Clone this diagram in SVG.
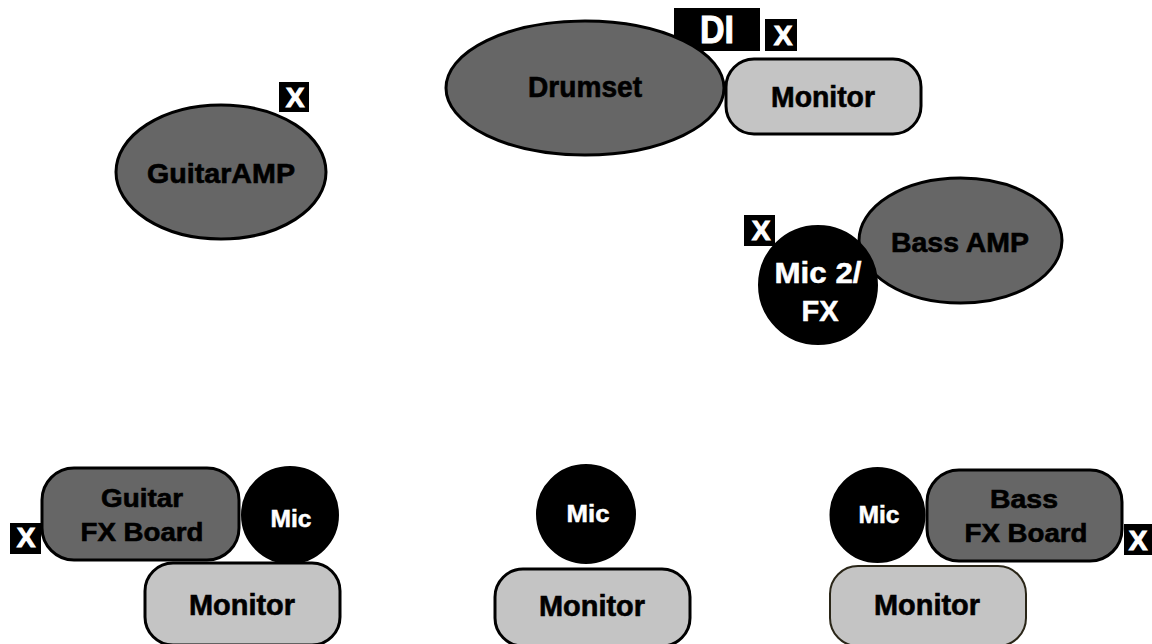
<svg xmlns="http://www.w3.org/2000/svg" width="1152" height="644" viewBox="0 0 1152 644">
<style>
text{font-family:"Liberation Sans",Arial,sans-serif;font-weight:700;text-anchor:middle}
.e{fill:#666;stroke:#000;stroke-width:3}
.m{fill:#c4c4c4;stroke:#000;stroke-width:3}
.c{fill:#000;stroke:#000;stroke-width:2}
.b{fill:#000}
.w{fill:#fff;stroke:#fff;stroke-width:.5}
.k{fill:#000;stroke:#000;stroke-width:.6}
.t{font-size:29px}
.a{font-size:27px}
.f{font-size:26px}
.n{font-size:30px}
.s{font-size:24px}
.x{font-size:28px;fill:#fff;stroke:#fff;stroke-width:1}
</style>
<rect width="1152" height="644" fill="#fff"/>
<g id="connectors"/>
<g id="di"><rect class="b" x="674" y="8" width="86" height="43"/><text class="x" x="717" y="43" style="font-size:38px" textLength="34" lengthAdjust="spacingAndGlyphs">DI</text></g>
<g id="drumset"><ellipse class="e" cx="585" cy="88" rx="139" ry="67"/><text class="k t" x="585" y="97" textLength="114" lengthAdjust="spacingAndGlyphs">Drumset</text></g>
<g id="monitor1"><rect class="m" x="726" y="59" width="195" height="75" rx="28"/><text class="k t" x="823" y="107" textLength="104" lengthAdjust="spacingAndGlyphs">Monitor</text></g>
<g id="x1"><rect class="b" x="765" y="19" width="32" height="32"/><text class="x" x="783" y="45">X</text></g>
<g id="guitaramp"><ellipse class="e" cx="221" cy="172" rx="105" ry="67"/><text class="k a" x="221" y="183" textLength="148" lengthAdjust="spacingAndGlyphs">GuitarAMP</text></g>
<g id="x2"><rect class="b" x="279" y="82" width="30" height="30"/><text class="x" x="295" y="107">X</text></g>
<g id="bassamp"><ellipse class="e" cx="960.500" cy="240.500" rx="101.500" ry="62.500"/><text class="k a" x="960" y="252" textLength="138" lengthAdjust="spacingAndGlyphs">Bass AMP</text></g>
<g id="mic2"><circle class="c" cx="818" cy="285" r="59"/><text class="w t" x="818" y="283" textLength="87" lengthAdjust="spacingAndGlyphs">Mic 2/</text><text class="w t" x="820" y="321">FX</text></g>
<g id="x3"><rect class="b" x="744" y="215" width="31" height="31"/><text class="x" x="761" y="240">X</text></g>
<g id="guitarfx"><rect class="e" x="42" y="468" width="197" height="92" rx="32"/><text class="k f" x="142" y="507" textLength="82" lengthAdjust="spacingAndGlyphs">Guitar</text><text class="k f" x="142" y="541" textLength="123" lengthAdjust="spacingAndGlyphs">FX Board</text></g>
<g id="mic3"><circle class="c" cx="290" cy="515" r="48"/><text class="w s" x="291" y="527" textLength="41" lengthAdjust="spacingAndGlyphs">Mic</text></g>
<g id="x4"><rect class="b" x="10" y="523" width="31" height="31"/><text class="x" x="26" y="547">X</text></g>
<g id="monitor2"><rect class="m" x="145" y="563" width="195" height="82" rx="28"/><text class="k n" x="242" y="615" textLength="106" lengthAdjust="spacingAndGlyphs">Monitor</text></g>
<g id="mic4"><circle class="c" cx="586" cy="514" r="49"/><text class="w s" x="588" y="522" textLength="43" lengthAdjust="spacingAndGlyphs">Mic</text></g>
<g id="monitor3"><rect class="m" x="495" y="569" width="195" height="77" rx="28"/><text class="k n" x="592" y="616" textLength="106" lengthAdjust="spacingAndGlyphs">Monitor</text></g>
<g id="mic5"><circle class="c" cx="877.500" cy="515" r="47"/><text class="w s" x="879" y="523" textLength="41" lengthAdjust="spacingAndGlyphs">Mic</text></g>
<g id="bassfx"><rect class="e" x="927" y="470" width="195" height="91" rx="32"/><text class="k f" x="1024" y="508" textLength="68" lengthAdjust="spacingAndGlyphs">Bass</text><text class="k f" x="1026" y="542" textLength="123" lengthAdjust="spacingAndGlyphs">FX Board</text></g>
<g id="x5"><rect class="b" x="1124" y="524" width="30" height="31"/><text class="x" x="1138" y="550">X</text></g>
<g id="monitor4"><rect class="m" x="830" y="566" width="196" height="80" rx="28" style="stroke:#2a2618;stroke-width:2"/><text class="k n" x="927" y="615" textLength="106" lengthAdjust="spacingAndGlyphs">Monitor</text></g>
</svg>
